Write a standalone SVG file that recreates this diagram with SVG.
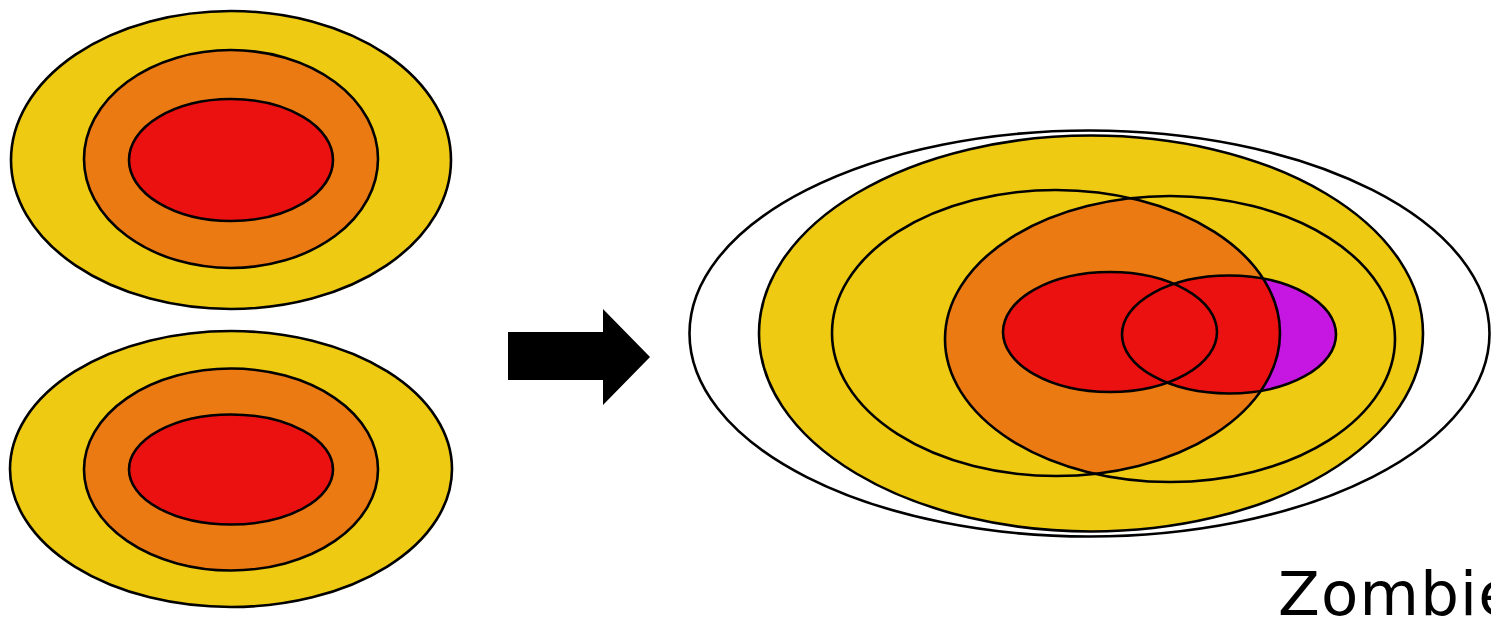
<svg xmlns="http://www.w3.org/2000/svg" width="1491" height="624" viewBox="0 0 1491 624">
<style>
.ln{stroke:#000;stroke-width:2.6;}
.y{fill:#EECA13;}
.o{fill:#EC7A12;}
.r{fill:#EC1111;}
.p{fill:#C616E2;}
.w{fill:#fff;}
.n{fill:none;}
text{font-family:"DejaVu Sans",Verdana,sans-serif;font-size:61px;letter-spacing:1.2px;fill:#000;}
</style>
<defs>
<clipPath id="clipA"><ellipse cx="1056" cy="333" rx="224" ry="143"/></clipPath>
<clipPath id="outsideA"><path clip-rule="evenodd" d="M680 120H1491V560H680Z M832 333a224 143 0 1 0 448 0a224 143 0 1 0 -448 0Z"/></clipPath>
</defs>
<rect width="1491" height="624" fill="#fff"/>
<g id="galaxy-top">
<ellipse class="y ln" cx="231" cy="160" rx="220" ry="149"/>
<ellipse class="o ln" cx="231" cy="159" rx="147" ry="109"/>
<ellipse class="r ln" cx="231" cy="160" rx="102" ry="61"/>
</g>
<g id="galaxy-bottom">
<ellipse class="y ln" cx="231" cy="469" rx="221" ry="138"/>
<ellipse class="o ln" cx="231" cy="469.5" rx="147" ry="101"/>
<ellipse class="r ln" cx="231" cy="469.5" rx="102" ry="55"/>
</g>
<g id="connectors">
<polygon points="508,332 603,332 603,309 650,357 603,405 603,380 508,380" fill="#000"/>
</g>
<g id="merged">
<ellipse class="w ln" cx="1089.5" cy="333.5" rx="400" ry="203"/>
<ellipse class="y ln" cx="1091" cy="333.5" rx="332" ry="198"/>
<ellipse class="o" cx="1170" cy="339" rx="225" ry="143" clip-path="url(#clipA)"/>
<ellipse class="r" cx="1110" cy="332" rx="107" ry="60"/>
<ellipse class="r" cx="1229" cy="334.5" rx="107" ry="59"/>
<ellipse class="p" cx="1229" cy="334.5" rx="107" ry="59" clip-path="url(#outsideA)"/>
<ellipse class="n ln" cx="1056" cy="333" rx="224" ry="143"/>
<ellipse class="n ln" cx="1170" cy="339" rx="225" ry="143"/>
<ellipse class="n ln" cx="1110" cy="332" rx="107" ry="60"/>
<ellipse class="n ln" cx="1229" cy="334.5" rx="107" ry="59"/>
</g>
<g id="label">
<text x="1278" y="615">Zombie</text>
</g>
</svg>
